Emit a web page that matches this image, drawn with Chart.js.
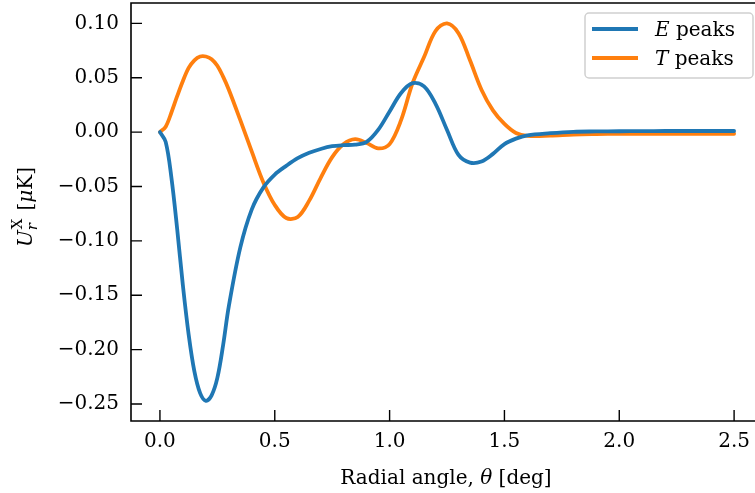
<!DOCTYPE html>
<html>
<head>
<meta charset="utf-8">
<script src="https://cdn.jsdelivr.net/npm/chart.js@4/dist/chart.umd.min.js"></script>
<style>
  html, body { margin: 0; padding: 0; background: #fff; }
</style>
</head>
<body>
<canvas id="chart" width="755" height="493"></canvas>
<script>
// radial angle in degrees
const thetaDeg = [
  0, 0.025, 0.05, 0.075, 0.1, 0.125, 0.15, 0.175, 0.2, 0.225, 0.25, 0.275, 0.3,
  0.35, 0.4, 0.45, 0.5, 0.55, 0.6, 0.65, 0.7, 0.75, 0.8, 0.85, 0.9, 0.95,
  1.0, 1.05, 1.1, 1.15, 1.2, 1.25, 1.3, 1.35, 1.4, 1.45, 1.5, 1.55, 1.6,
  1.7, 1.8, 1.9, 2.0, 2.1, 2.2, 2.3, 2.4, 2.5
]
const ePeaks = [
  0, -0.009, -0.042, -0.089, -0.141, -0.186, -0.220, -0.240, -0.247, -0.242, -0.226, -0.196, -0.160,
  -0.106, -0.071, -0.051, -0.039, -0.031, -0.024, -0.019, -0.0155, -0.013, -0.012, -0.0115, -0.009, 0.002,
  0.019, 0.036, 0.045, 0.042, 0.026, 0.002, -0.021, -0.028, -0.027, -0.020, -0.011, -0.006, -0.003,
  -0.001, 0.0003, 0.0006, 0.0008, 0.0009, 0.001, 0.001, 0.001, 0.001
]
const tPeaks = [
  0, 0.005, 0.018, 0.033, 0.047, 0.059, 0.066, 0.0695, 0.0695, 0.067, 0.061, 0.051, 0.039,
  0.011, -0.018, -0.046, -0.067, -0.079, -0.078, -0.063, -0.042, -0.023, -0.011, -0.0065, -0.010, -0.015,
  -0.011, 0.011, 0.045, 0.069, 0.093, 0.100, 0.091, 0.066, 0.039, 0.020, 0.0075, -0.0008, -0.0034,
  -0.0032, -0.0022, -0.0018, -0.0016, -0.0015, -0.0015, -0.0015, -0.0015, -0.0015
]
const xTicks = [0, 0.5, 1.0, 1.5, 2.0, 2.5]
const yTicks = [-0.25, -0.20, -0.15, -0.10, -0.05, 0.00, 0.05, 0.10]
const seriesLabels = [["E", " peaks"], ["T", " peaks"]]
const seriesColors = ["#1f77b4", "#ff7f0e"]

const fontFamily = "'DejaVu Serif', 'Liberation Serif', serif"
const fontSize = 20

const toPoints = (ys) => thetaDeg.map((x, i) => ({x: x, y: ys[i]}))
const minus = (s) => s.replace("-", "\u2212")

// draws spines and inward ticks like the matplotlib frame
const framePlugin = {
  id: "frame",
  afterDraw(chart) {
    const {ctx, chartArea: a, scales} = chart
    ctx.save()
    ctx.strokeStyle = "#000"
    ctx.lineWidth = 1.6
    ctx.beginPath()
    ctx.moveTo(a.right + 2, a.top)
    ctx.lineTo(a.left, a.top)
    ctx.lineTo(a.left, a.bottom)
    ctx.lineTo(a.right + 2, a.bottom)
    ctx.stroke()
    ctx.lineWidth = 1.4
    ctx.beginPath()
    xTicks.forEach((v) => {
      const px = scales.x.getPixelForValue(v)
      ctx.moveTo(px, a.bottom)
      ctx.lineTo(px, a.bottom - 11)
    })
    yTicks.forEach((v) => {
      const py = scales.y.getPixelForValue(v)
      ctx.moveTo(a.left, py)
      ctx.lineTo(a.left + 11, py)
    })
    ctx.stroke()
    ctx.restore()
  },
}

// draws a run of [text, italic, size, dy] pieces, returns total width
function drawPieces(ctx, pieces, x, y, measureOnly) {
  let w = 0
  pieces.forEach(([txt, italic, size, dy]) => {
    ctx.font = (italic ? "italic " : "") + (size || fontSize) + "px " + fontFamily
    if (!measureOnly) ctx.fillText(txt, x + w, y + (dy || 0))
    w += ctx.measureText(txt).width
  })
  return w
}

const titlesPlugin = {
  id: "titles",
  afterDraw(chart) {
    const {ctx} = chart
    ctx.save()
    ctx.fillStyle = "#000"
    ctx.textBaseline = "alphabetic"
    ctx.textAlign = "left"
    // x axis title
    const xt = [["Radial angle, ", false], ["\u03b8", true], [" [deg]", false]]
    const xw = drawPieces(ctx, xt, 0, 0, true)
    drawPieces(ctx, xt, 446 - xw / 2, 484)
    // y axis title, rotated
    ctx.translate(32, 207)
    ctx.rotate(-Math.PI / 2)
    ctx.font = "italic " + fontSize + "px " + fontFamily
    const uw = ctx.measureText("U").width
    ctx.font = "15px " + fontFamily
    const supw = ctx.measureText("X").width
    const rest = [["[", false], ["\u03bc", true], ["K]", false]]
    const rw = drawPieces(ctx, rest, 0, 0, true)
    const total = uw + supw + 9 + rw
    const x0 = -total / 2
    drawPieces(ctx, [["U", true]], x0, 0)
    drawPieces(ctx, [["r", true, 15]], x0 + uw, 5)
    drawPieces(ctx, [["X", false, 15]], x0 + uw + 1, -10)
    drawPieces(ctx, rest, x0 + uw + supw + 9, 0)
    ctx.restore()
  },
}

const legendPlugin = {
  id: "boxLegend",
  afterDraw(chart) {
    const {ctx} = chart
    ctx.save()
    ctx.beginPath()
    ctx.roundRect(585, 13, 168, 65, 4)
    ctx.fillStyle = "rgba(255,255,255,0.8)"
    ctx.fill()
    ctx.strokeStyle = "#d0d0d0"
    ctx.lineWidth = 1.5
    ctx.stroke()
    chart.data.datasets.forEach((ds, i) => {
      const y = 29 + i * 29
      ctx.strokeStyle = ds.borderColor
      ctx.lineWidth = 3.8
      ctx.beginPath()
      ctx.moveTo(592, y)
      ctx.lineTo(638, y)
      ctx.stroke()
      ctx.fillStyle = "#000"
      ctx.textBaseline = "alphabetic"
      drawPieces(ctx, [[seriesLabels[i][0], true], [seriesLabels[i][1], false]], 655, y + 7)
    })
    ctx.restore()
  },
}

const tickFont = {family: fontFamily, size: fontSize}

new Chart(document.getElementById("chart"), {
  type: "line",
  data: {
    datasets: [
      {label: seriesLabels[0].join(""), data: toPoints(ePeaks), borderColor: seriesColors[0]},
      {label: seriesLabels[1].join(""), data: toPoints(tPeaks), borderColor: seriesColors[1]},
    ],
  },
  options: {
    responsive: false,
    animation: false,
    devicePixelRatio: 1,
    layout: {padding: {top: 3, right: 0, left: 0, bottom: 0}},
    plugins: {legend: {display: false}, tooltip: {enabled: false}},
    elements: {
      point: {radius: 0},
      line: {borderWidth: 3.8, tension: 0.35, borderCapStyle: "round"},
    },
    scales: {
      x: {
        type: "linear",
        min: -0.126,
        max: 2.591,
        grid: {display: false, drawTicks: false},
        border: {display: false},
        afterFit: (s) => { s.height = 72; s.paddingLeft = 0; s.paddingRight = 0 },
        afterBuildTicks: (s) => { s.ticks = xTicks.map((v) => ({value: v})) },
        ticks: {padding: 9, autoSkip: false, maxRotation: 0, color: "#000", font: tickFont,
          callback: (v) => minus(v.toFixed(1))},
      },
      y: {
        type: "linear",
        min: -0.2656,
        max: 0.1187,
        grid: {display: false, drawTicks: false},
        border: {display: false},
        afterFit: (s) => { s.width = 131; s.paddingTop = 0; s.paddingBottom = 0 },
        afterBuildTicks: (s) => { s.ticks = yTicks.map((v) => ({value: v})) },
        ticks: {padding: 12, autoSkip: false, color: "#000", font: tickFont,
          callback: (v) => minus(v.toFixed(2))},
      },
    },
  },
  plugins: [framePlugin, titlesPlugin, legendPlugin],
})
</script>
</body>
</html>
